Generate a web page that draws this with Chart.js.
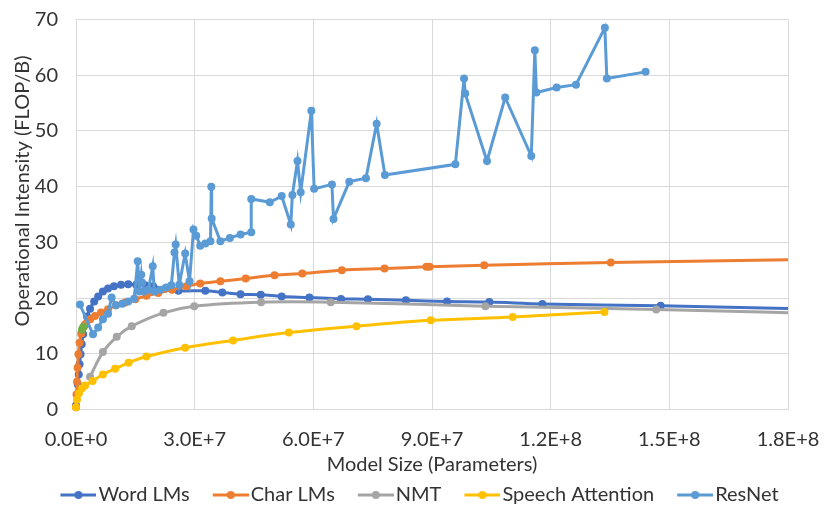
<!DOCTYPE html>
<html>
<head>
<meta charset="utf-8">
<script src="https://cdn.jsdelivr.net/npm/chart.js@4.4.1/dist/chart.umd.min.js"></script>
<style>
  html, body { margin: 0; padding: 0; background: #ffffff; }
  #wrap { width: 830px; height: 517px; position: relative; }
</style>
</head>
<body>
<div id="wrap"><canvas id="c"></canvas></div>
<script>
// ---- data (x in parameters, y in FLOP/B) ----
const seriesNames = ['Word LMs', 'Char LMs', 'NMT', 'Speech Attention', 'ResNet'];
const xTickLabels = ['0.0E+0', '3.0E+7', '6.0E+7', '9.0E+7', '1.2E+8', '1.5E+8', '1.8E+8'];
const yTickLabels = ['0', '10', '20', '30', '40', '50', '60', '70'];

const wordX = [0, 0.25e6, 0.45e6, 0.7e6, 0.9e6, 1.15e6, 1.45e6, 1.8e6, 2.2e6, 2.8e6, 3.55e6, 4.6e6, 5.6e6, 6.8e6, 8.1e6, 9.6e6, 11.4e6, 13.2e6, 15.2e6, 17.5e6, 19.5e6, 22.6e6, 25.9e6, 32.7e6, 37.0e6, 41.6e6, 46.7e6, 52.0e6, 59.0e6, 67.0e6, 73.8e6, 83.4e6, 93.8e6, 104.5e6, 117.9e6, 147.8e6, 200e6];
const wordY = [0.7, 2.7, 4.5, 6.3, 8.1, 9.9, 11.7, 13.5, 15.1, 16.7, 18.1, 19.4, 20.3, 21.2, 21.7, 22.1, 22.4, 22.5, 22.4, 22.3, 22.1, 21.7, 21.3, 21.3, 21.0, 20.7, 20.6, 20.3, 20.1, 19.85, 19.8, 19.6, 19.4, 19.3, 18.95, 18.6, 17.8];

const charX = [0, 0.13e6, 0.25e6, 0.4e6, 0.6e6, 0.9e6, 1.3e6, 1.8e6, 2.5e6, 3.6e6, 4.8e6, 6.3e6, 8.1e6, 10.1e6, 12.4e6, 15.0e6, 17.8e6, 20.8e6, 24.3e6, 27.9e6, 31.4e6, 36.5e6, 42.9e6, 50.2e6, 57.2e6, 67.2e6, 78.0e6, 88.6e6, 89.4e6, 103.2e6, 135.2e6, 200e6];
const charY = [0.4, 2.7, 5.0, 7.5, 9.9, 12.0, 13.6, 14.7, 15.4, 16.2, 16.8, 17.4, 18.0, 18.7, 19.2, 19.8, 20.4, 20.9, 21.5, 22.1, 22.6, 23.0, 23.5, 24.1, 24.4, 25.0, 25.3, 25.6, 25.6, 25.9, 26.4, 27.1];

const nmtX = [3.55e6, 6.8e6, 10.3e6, 14.1e6, 22.1e6, 29.9e6, 46.8e6, 64.4e6, 103.5e6, 146.7e6, 200e6];
const nmtY = [5.9, 10.3, 13.05, 14.95, 17.35, 18.55, 19.25, 19.25, 18.55, 17.95, 17.0];

const speechX = [0, 0.25e6, 0.75e6, 1.5e6, 2.3e6, 4.2e6, 6.8e6, 9.9e6, 13.3e6, 17.8e6, 27.6e6, 39.7e6, 53.8e6, 70.9e6, 89.7e6, 110.4e6, 133.6e6];
const speechY = [0.4, 1.8, 2.9, 3.8, 4.3, 5.1, 6.3, 7.3, 8.4, 9.5, 11.1, 12.4, 13.8, 14.95, 16.0, 16.6, 17.5];

const resnetX = [1.0e6, 4.3e6, 5.6e6, 6.8e6, 8.1e6, 9.0e6, 10.1e6, 11.7e6, 13.2e6, 14.7e6, 15.6e6, 16.0e6, 16.5e6, 16.7e6, 17.2e6, 18.3e6, 19.4e6, 19.8e6, 21.3e6, 22.8e6, 24.1e6, 24.9e6, 25.2e6, 26.1e6, 27.6e6, 28.7e6, 29.7e6, 30.4e6, 31.4e6, 32.7e6, 34.0e6, 34.2e6, 34.3e6, 36.5e6, 38.9e6, 41.6e6, 44.3e6, 44.3e6, 49.0e6, 52.0e6, 54.3e6, 54.7e6, 56.0e6, 56.8e6, 59.5e6, 60.2e6, 64.7e6, 65.1e6, 69.1e6, 73.3e6, 76.0e6, 78.1e6, 95.9e6, 98.1e6, 98.4e6, 103.9e6, 108.5e6, 115.1e6, 116.0e6, 116.4e6, 121.5e6, 126.4e6, 133.7e6, 134.2e6, 144.0e6];
const resnetY = [18.85, 13.5, 14.7, 16.2, 17.2, 20.1, 18.7, 19.0, 19.4, 19.9, 26.6, 21.2, 24.2, 22.8, 21.2, 21.5, 25.7, 21.2, 21.5, 21.9, 22.3, 28.2, 29.6, 22.4, 28.0, 23.0, 32.3, 31.2, 29.4, 29.8, 30.2, 40.0, 34.3, 30.2, 30.8, 31.4, 31.8, 37.8, 37.2, 38.3, 33.2, 38.5, 44.6, 39.0, 53.6, 39.6, 40.4, 34.2, 40.9, 41.5, 51.3, 42.1, 44.0, 59.4, 56.7, 44.6, 56.0, 45.5, 64.5, 56.9, 57.8, 58.3, 68.5, 59.4, 60.6];

const otherX = [1.5e6, 1.9e6];
const otherY = [14.3, 14.8];

const colors = ['#4472C4', '#ED7D31', '#A5A5A5', '#FFC000', '#5B9BD5', '#70AD47'];

// ---- build ----
const pts = (xs, ys) => xs.map((x, i) => ({ x: x, y: ys[i] }));
const FONT = 'Lato';
const FS = 20;
const TXT = '#333333';

// legend geometry: leading gap before line (a), item padding (p)
const LEG_PAD = 6;
const LEG_A = 17;
const LEG_LINE = 36;
const LEG_BOX = LEG_A + 38 - FS / 2;
function legendIcon(color) {
  const lineStart = LEG_A, lineEnd = LEG_A + LEG_LINE;
  const center = LEG_BOX / 2;
  const half = Math.max(lineEnd - center, center - lineStart);
  const c = document.createElement('canvas');
  c.width = Math.ceil(half * 2); c.height = 12;
  const g = c.getContext('2d');
  const off = half - center;
  g.strokeStyle = color; g.lineWidth = 3;
  g.beginPath(); g.moveTo(off + lineStart, 6); g.lineTo(off + lineEnd, 6); g.stroke();
  g.fillStyle = color;
  g.beginPath(); g.arc(off + (lineStart + lineEnd) / 2, 6, 4, 0, Math.PI * 2); g.fill();
  return c;
}

function mk(i, xs, ys, smooth, label) {
  return {
    label: label,
    data: pts(xs, ys),
    showLine: true,
    borderColor: colors[i],
    backgroundColor: colors[i],
    borderWidth: 3,
    pointRadius: 4,
    pointHoverRadius: 4,
    pointBorderWidth: 0,
    tension: smooth ? 0.35 : 0,
    order: 5 - i,
    clip: { left: 8, top: 8, right: 0, bottom: 8 }
  };
}

const datasets = [
  mk(0, wordX, wordY, true, seriesNames[0]),
  mk(1, charX, charY, true, seriesNames[1]),
  mk(2, nmtX, nmtY, true, seriesNames[2]),
  mk(3, speechX, speechY, true, seriesNames[3]),
  mk(4, resnetX, resnetY, false, seriesNames[4]),
  mk(5, otherX, otherY, true, '')
];

const yTitlePlugin = {
  id: 'yTitle',
  afterDraw(chart) {
    const ctx = chart.ctx;
    ctx.save();
    ctx.translate(23, 191);
    ctx.rotate(-Math.PI / 2);
    ctx.font = FS + 'px ' + FONT;
    ctx.fillStyle = TXT;
    ctx.textAlign = 'center';
    ctx.textBaseline = 'middle';
    ctx.fillText('Operational Intensity (FLOP/B)', 0, 0);
    ctx.restore();
  }
};

new Chart(document.getElementById('c'), {
  type: 'scatter',
  data: { datasets: datasets },
  plugins: [yTitlePlugin],
  options: {
    responsive: true,
    maintainAspectRatio: false,
    animation: false,
    layout: { autoPadding: false, padding: { left: 34, right: 42, top: 19.5, bottom: 2 } },
    plugins: {
      tooltip: { enabled: false },
      legend: {
        position: 'bottom',
        labels: {
          usePointStyle: true,
          pointStyleWidth: LEG_BOX,
          padding: LEG_PAD,
          color: TXT,
          font: { family: FONT, size: FS },
          filter: (item) => item.text !== '',
          sort: (a, b) => a.datasetIndex - b.datasetIndex,
          generateLabels: (chart) => {
            const items = Chart.defaults.plugins.legend.labels.generateLabels(chart);
            items.forEach((it) => { it.pointStyle = legendIcon(colors[it.datasetIndex]); });
            return items;
          }
        }
      }
    },
    scales: {
      x: {
        type: 'linear',
        min: 0, max: 1.8e8,
        afterFit: (s) => { s.height = 69.5; s.paddingLeft = 0; s.paddingRight = 0; },
        ticks: {
          stepSize: 3e7,
          padding: 18,
          color: TXT,
          font: { family: FONT, size: FS },
          maxRotation: 0,
          callback: (v, i) => xTickLabels[i]
        },
        grid: { color: '#D9D9D9', lineWidth: 1, drawTicks: false },
        border: { color: '#D9D9D9', width: 1 },
        title: {
          display: true,
          text: 'Model Size (Parameters)',
          color: TXT,
          font: { family: FONT, size: FS },
          padding: { top: 0, bottom: 2 }
        }
      },
      y: {
        type: 'linear',
        min: 0, max: 70,
        afterFit: (s) => { s.width = 42; s.paddingTop = 0; s.paddingBottom = 0; },
        ticks: {
          stepSize: 10,
          padding: 18,
          color: TXT,
          font: { family: FONT, size: FS },
          callback: (v, i) => yTickLabels[i]
        },
        grid: { color: '#D9D9D9', lineWidth: 1, drawTicks: false },
        border: { color: '#D9D9D9', width: 1 }
      }
    }
  }
});
</script>
</body>
</html>
